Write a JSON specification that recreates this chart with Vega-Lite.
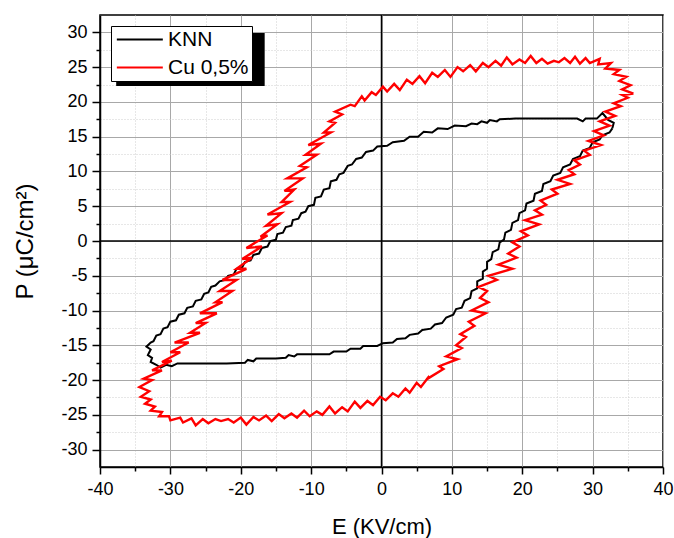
{
"$schema":"https://vega.github.io/schema/vega-lite/v6.json",
"width":563,"height":452,
"autosize":{"type":"none"},
"padding":{"left":100,"top":15,"right":11,"bottom":71},
"background":"white",
"config":{
 "font":"Liberation Sans",
 "view":{"stroke":"black","strokeWidth":1.5},
 "axis":{"labelFont":"Liberation Sans","titleFont":"Liberation Sans","labelColor":"black","titleColor":"black","titleFontWeight":"normal","labelFontSize":18,"titleFontSize":24}
},
"datasets":{
 "shadow":[{"x1":-37.7,"x2":-16.6,"y1":29.9,"y2":22.3}],
 "loops":[
{"s":"KNN","i":0,"E":32.8,"P":16.2},{"s":"KNN","i":1,"E":33.0,"P":17.0},{"s":"KNN","i":2,"E":32.2,"P":17.4},{"s":"KNN","i":3,"E":31.4,"P":18.4},{"s":"KNN","i":4,"E":30.6,"P":17.6},{"s":"KNN","i":5,"E":29.0,"P":17.6},{"s":"KNN","i":6,"E":28.6,"P":17.2},{"s":"KNN","i":7,"E":27.8,"P":17.6},{"s":"KNN","i":8,"E":25.0,"P":17.6},{"s":"KNN","i":9,"E":22.0,"P":17.6},
{"s":"KNN","i":10,"E":19.0,"P":17.6},{"s":"KNN","i":11,"E":16.8,"P":17.5},{"s":"KNN","i":12,"E":16.4,"P":17.2},{"s":"KNN","i":13,"E":15.4,"P":17.4},{"s":"KNN","i":14,"E":15.0,"P":17.0},{"s":"KNN","i":15,"E":14.2,"P":17.2},{"s":"KNN","i":16,"E":13.6,"P":16.8},{"s":"KNN","i":17,"E":12.8,"P":16.9},{"s":"KNN","i":18,"E":12.0,"P":16.5},{"s":"KNN","i":19,"E":10.4,"P":16.6},
{"s":"KNN","i":20,"E":9.4,"P":16.1},{"s":"KNN","i":21,"E":8.0,"P":16.2},{"s":"KNN","i":22,"E":7.2,"P":15.6},{"s":"KNN","i":23,"E":6.0,"P":15.7},{"s":"KNN","i":24,"E":5.2,"P":15.0},{"s":"KNN","i":25,"E":4.0,"P":15.0},{"s":"KNN","i":26,"E":3.2,"P":14.4},{"s":"KNN","i":27,"E":1.6,"P":14.2},{"s":"KNN","i":28,"E":0.8,"P":13.7},{"s":"KNN","i":29,"E":-0.6,"P":13.6},
{"s":"KNN","i":30,"E":-1.2,"P":13.0},{"s":"KNN","i":31,"E":-2.2,"P":12.8},{"s":"KNN","i":32,"E":-2.8,"P":12.0},{"s":"KNN","i":33,"E":-3.6,"P":11.8},{"s":"KNN","i":34,"E":-4.2,"P":11.0},{"s":"KNN","i":35,"E":-4.8,"P":10.8},{"s":"KNN","i":36,"E":-5.4,"P":9.8},{"s":"KNN","i":37,"E":-6.0,"P":9.6},{"s":"KNN","i":38,"E":-6.4,"P":8.8},{"s":"KNN","i":39,"E":-7.2,"P":8.6},
{"s":"KNN","i":40,"E":-7.4,"P":7.6},{"s":"KNN","i":41,"E":-8.2,"P":7.4},{"s":"KNN","i":42,"E":-8.6,"P":6.4},{"s":"KNN","i":43,"E":-9.4,"P":6.2},{"s":"KNN","i":44,"E":-9.6,"P":5.2},{"s":"KNN","i":45,"E":-10.4,"P":5.0},{"s":"KNN","i":46,"E":-10.8,"P":4.2},{"s":"KNN","i":47,"E":-11.4,"P":4.0},{"s":"KNN","i":48,"E":-11.8,"P":3.2},{"s":"KNN","i":49,"E":-12.6,"P":3.0},
{"s":"KNN","i":50,"E":-12.8,"P":2.2},{"s":"KNN","i":51,"E":-13.6,"P":2.0},{"s":"KNN","i":52,"E":-14.0,"P":1.2},{"s":"KNN","i":53,"E":-14.8,"P":1.0},{"s":"KNN","i":54,"E":-15.0,"P":0.2},{"s":"KNN","i":55,"E":-15.8,"P":0.0},{"s":"KNN","i":56,"E":-16.2,"P":-0.8},{"s":"KNN","i":57,"E":-17.0,"P":-1.0},{"s":"KNN","i":58,"E":-17.4,"P":-1.8},{"s":"KNN","i":59,"E":-18.2,"P":-2.0},
{"s":"KNN","i":60,"E":-18.6,"P":-2.8},{"s":"KNN","i":61,"E":-19.4,"P":-3.0},{"s":"KNN","i":62,"E":-19.8,"P":-3.8},{"s":"KNN","i":63,"E":-20.6,"P":-4.0},{"s":"KNN","i":64,"E":-21.0,"P":-4.8},{"s":"KNN","i":65,"E":-21.8,"P":-5.0},{"s":"KNN","i":66,"E":-22.2,"P":-5.6},{"s":"KNN","i":67,"E":-23.0,"P":-5.8},{"s":"KNN","i":68,"E":-23.6,"P":-6.4},{"s":"KNN","i":69,"E":-24.2,"P":-6.6},
{"s":"KNN","i":70,"E":-24.6,"P":-7.4},{"s":"KNN","i":71,"E":-25.2,"P":-7.6},{"s":"KNN","i":72,"E":-25.6,"P":-8.4},{"s":"KNN","i":73,"E":-26.4,"P":-8.6},{"s":"KNN","i":74,"E":-26.8,"P":-9.4},{"s":"KNN","i":75,"E":-27.6,"P":-9.6},{"s":"KNN","i":76,"E":-28.0,"P":-10.4},{"s":"KNN","i":77,"E":-28.8,"P":-10.6},{"s":"KNN","i":78,"E":-29.2,"P":-11.4},{"s":"KNN","i":79,"E":-30.0,"P":-11.6},
{"s":"KNN","i":80,"E":-30.4,"P":-12.4},{"s":"KNN","i":81,"E":-31.0,"P":-12.6},{"s":"KNN","i":82,"E":-31.4,"P":-13.4},{"s":"KNN","i":83,"E":-32.0,"P":-13.6},{"s":"KNN","i":84,"E":-32.4,"P":-14.4},{"s":"KNN","i":85,"E":-32.8,"P":-14.6},{"s":"KNN","i":86,"E":-33.4,"P":-15.2},{"s":"KNN","i":87,"E":-32.8,"P":-15.6},{"s":"KNN","i":88,"E":-33.2,"P":-16.4},{"s":"KNN","i":89,"E":-32.6,"P":-16.8},
{"s":"KNN","i":90,"E":-32.8,"P":-17.4},{"s":"KNN","i":91,"E":-32.0,"P":-17.8},{"s":"KNN","i":92,"E":-31.4,"P":-18.2},{"s":"KNN","i":93,"E":-30.6,"P":-17.8},{"s":"KNN","i":94,"E":-29.8,"P":-18.0},{"s":"KNN","i":95,"E":-29.0,"P":-17.6},{"s":"KNN","i":96,"E":-27.0,"P":-17.6},{"s":"KNN","i":97,"E":-25.0,"P":-17.6},{"s":"KNN","i":98,"E":-22.0,"P":-17.6},{"s":"KNN","i":99,"E":-19.4,"P":-17.5},
{"s":"KNN","i":100,"E":-19.0,"P":-17.1},{"s":"KNN","i":101,"E":-18.2,"P":-17.3},{"s":"KNN","i":102,"E":-17.8,"P":-16.9},{"s":"KNN","i":103,"E":-15.0,"P":-16.9},{"s":"KNN","i":104,"E":-13.6,"P":-16.8},{"s":"KNN","i":105,"E":-13.2,"P":-16.4},{"s":"KNN","i":106,"E":-12.4,"P":-16.6},{"s":"KNN","i":107,"E":-12.0,"P":-16.3},{"s":"KNN","i":108,"E":-7.4,"P":-16.3},{"s":"KNN","i":109,"E":-6.8,"P":-15.9},
{"s":"KNN","i":110,"E":-5.0,"P":-15.9},{"s":"KNN","i":111,"E":-4.4,"P":-15.5},{"s":"KNN","i":112,"E":-3.0,"P":-15.5},{"s":"KNN","i":113,"E":-2.6,"P":-15.1},{"s":"KNN","i":114,"E":-0.6,"P":-15.1},{"s":"KNN","i":115,"E":0.2,"P":-14.7},{"s":"KNN","i":116,"E":1.6,"P":-14.6},{"s":"KNN","i":117,"E":2.2,"P":-14.1},{"s":"KNN","i":118,"E":3.4,"P":-14.0},{"s":"KNN","i":119,"E":4.0,"P":-13.5},
{"s":"KNN","i":120,"E":5.2,"P":-13.3},{"s":"KNN","i":121,"E":5.8,"P":-12.8},{"s":"KNN","i":122,"E":7.0,"P":-12.6},{"s":"KNN","i":123,"E":7.6,"P":-12.0},{"s":"KNN","i":124,"E":8.6,"P":-11.8},{"s":"KNN","i":125,"E":9.2,"P":-11.0},{"s":"KNN","i":126,"E":10.2,"P":-10.6},{"s":"KNN","i":127,"E":10.6,"P":-9.8},{"s":"KNN","i":128,"E":11.4,"P":-9.6},{"s":"KNN","i":129,"E":11.8,"P":-8.6},
{"s":"KNN","i":130,"E":12.6,"P":-8.2},{"s":"KNN","i":131,"E":12.8,"P":-7.2},{"s":"KNN","i":132,"E":13.6,"P":-6.8},{"s":"KNN","i":133,"E":13.6,"P":-5.8},{"s":"KNN","i":134,"E":14.4,"P":-5.4},{"s":"KNN","i":135,"E":14.4,"P":-4.4},{"s":"KNN","i":136,"E":15.0,"P":-4.0},{"s":"KNN","i":137,"E":15.0,"P":-3.0},{"s":"KNN","i":138,"E":15.6,"P":-2.6},{"s":"KNN","i":139,"E":15.8,"P":-1.6},
{"s":"KNN","i":140,"E":16.6,"P":-1.2},{"s":"KNN","i":141,"E":16.8,"P":-0.2},{"s":"KNN","i":142,"E":17.4,"P":0.2},{"s":"KNN","i":143,"E":17.6,"P":1.2},{"s":"KNN","i":144,"E":18.4,"P":1.6},{"s":"KNN","i":145,"E":18.6,"P":2.6},{"s":"KNN","i":146,"E":19.4,"P":3.0},{"s":"KNN","i":147,"E":19.6,"P":4.0},{"s":"KNN","i":148,"E":20.4,"P":4.4},{"s":"KNN","i":149,"E":20.6,"P":5.4},
{"s":"KNN","i":150,"E":21.6,"P":5.8},{"s":"KNN","i":151,"E":21.8,"P":6.8},{"s":"KNN","i":152,"E":22.8,"P":7.2},{"s":"KNN","i":153,"E":23.0,"P":8.2},{"s":"KNN","i":154,"E":24.0,"P":8.6},{"s":"KNN","i":155,"E":24.4,"P":9.4},{"s":"KNN","i":156,"E":25.4,"P":9.8},{"s":"KNN","i":157,"E":25.8,"P":10.6},{"s":"KNN","i":158,"E":26.8,"P":11.0},{"s":"KNN","i":159,"E":27.2,"P":11.8},
{"s":"KNN","i":160,"E":28.2,"P":12.2},{"s":"KNN","i":161,"E":28.6,"P":13.0},{"s":"KNN","i":162,"E":29.6,"P":13.4},{"s":"KNN","i":163,"E":30.0,"P":14.2},{"s":"KNN","i":164,"E":31.0,"P":14.6},{"s":"KNN","i":165,"E":31.4,"P":15.2},{"s":"KNN","i":166,"E":32.4,"P":15.6},{"s":"KNN","i":167,"E":32.8,"P":16.2},
{"s":"Cu 0,5%","i":0,"E":35.8,"P":21.2},{"s":"Cu 0,5%","i":1,"E":34.2,"P":21.8},{"s":"Cu 0,5%","i":2,"E":35.4,"P":22.4},{"s":"Cu 0,5%","i":3,"E":33.8,"P":23.0},{"s":"Cu 0,5%","i":4,"E":34.8,"P":23.6},{"s":"Cu 0,5%","i":5,"E":33.0,"P":24.0},{"s":"Cu 0,5%","i":6,"E":33.8,"P":24.6},{"s":"Cu 0,5%","i":7,"E":31.8,"P":24.8},{"s":"Cu 0,5%","i":8,"E":32.6,"P":25.6},{"s":"Cu 0,5%","i":9,"E":30.8,"P":25.4},
{"s":"Cu 0,5%","i":10,"E":31.0,"P":26.2},{"s":"Cu 0,5%","i":11,"E":29.6,"P":25.6},{"s":"Cu 0,5%","i":12,"E":29.0,"P":26.3},{"s":"Cu 0,5%","i":13,"E":28.2,"P":25.5},{"s":"Cu 0,5%","i":14,"E":27.5,"P":26.5},{"s":"Cu 0,5%","i":15,"E":26.8,"P":25.6},{"s":"Cu 0,5%","i":16,"E":26.0,"P":26.3},{"s":"Cu 0,5%","i":17,"E":25.2,"P":25.7},{"s":"Cu 0,5%","i":18,"E":24.5,"P":25.9},{"s":"Cu 0,5%","i":19,"E":23.6,"P":25.5},
{"s":"Cu 0,5%","i":20,"E":22.8,"P":26.2},{"s":"Cu 0,5%","i":21,"E":22.0,"P":25.6},{"s":"Cu 0,5%","i":22,"E":21.2,"P":26.6},{"s":"Cu 0,5%","i":23,"E":20.4,"P":25.6},{"s":"Cu 0,5%","i":24,"E":19.6,"P":26.1},{"s":"Cu 0,5%","i":25,"E":18.6,"P":25.4},{"s":"Cu 0,5%","i":26,"E":17.8,"P":26.4},{"s":"Cu 0,5%","i":27,"E":17.0,"P":25.2},{"s":"Cu 0,5%","i":28,"E":16.2,"P":25.9},{"s":"Cu 0,5%","i":29,"E":15.2,"P":25.0},
{"s":"Cu 0,5%","i":30,"E":14.4,"P":25.6},{"s":"Cu 0,5%","i":31,"E":13.4,"P":24.4},{"s":"Cu 0,5%","i":32,"E":12.6,"P":25.3},{"s":"Cu 0,5%","i":33,"E":11.6,"P":24.4},{"s":"Cu 0,5%","i":34,"E":10.8,"P":25.0},{"s":"Cu 0,5%","i":35,"E":9.8,"P":23.6},{"s":"Cu 0,5%","i":36,"E":9.0,"P":24.6},{"s":"Cu 0,5%","i":37,"E":8.0,"P":23.6},{"s":"Cu 0,5%","i":38,"E":7.2,"P":24.2},{"s":"Cu 0,5%","i":39,"E":6.2,"P":22.7},
{"s":"Cu 0,5%","i":40,"E":5.4,"P":23.7},{"s":"Cu 0,5%","i":41,"E":4.4,"P":22.6},{"s":"Cu 0,5%","i":42,"E":3.6,"P":23.2},{"s":"Cu 0,5%","i":43,"E":2.6,"P":21.7},{"s":"Cu 0,5%","i":44,"E":1.8,"P":22.6},{"s":"Cu 0,5%","i":45,"E":0.8,"P":21.5},{"s":"Cu 0,5%","i":46,"E":0.2,"P":22.2},{"s":"Cu 0,5%","i":47,"E":-0.8,"P":21.0},{"s":"Cu 0,5%","i":48,"E":-1.4,"P":21.4},{"s":"Cu 0,5%","i":49,"E":-2.4,"P":20.2},
{"s":"Cu 0,5%","i":50,"E":-2.8,"P":20.8},{"s":"Cu 0,5%","i":51,"E":-3.8,"P":19.4},{"s":"Cu 0,5%","i":52,"E":-4.4,"P":19.6},{"s":"Cu 0,5%","i":53,"E":-6.6,"P":18.6},{"s":"Cu 0,5%","i":54,"E":-5.6,"P":18.2},{"s":"Cu 0,5%","i":55,"E":-7.4,"P":17.2},{"s":"Cu 0,5%","i":56,"E":-6.6,"P":17.0},{"s":"Cu 0,5%","i":57,"E":-8.2,"P":15.6},{"s":"Cu 0,5%","i":58,"E":-7.2,"P":15.6},{"s":"Cu 0,5%","i":59,"E":-10.4,"P":13.8},
{"s":"Cu 0,5%","i":60,"E":-8.6,"P":14.0},{"s":"Cu 0,5%","i":61,"E":-10.8,"P":12.4},{"s":"Cu 0,5%","i":62,"E":-9.2,"P":12.4},{"s":"Cu 0,5%","i":63,"E":-11.6,"P":10.8},{"s":"Cu 0,5%","i":64,"E":-10.6,"P":10.6},{"s":"Cu 0,5%","i":65,"E":-13.4,"P":9.0},{"s":"Cu 0,5%","i":66,"E":-11.2,"P":9.0},{"s":"Cu 0,5%","i":67,"E":-13.8,"P":7.2},{"s":"Cu 0,5%","i":68,"E":-12.4,"P":7.4},{"s":"Cu 0,5%","i":69,"E":-14.2,"P":5.6},
{"s":"Cu 0,5%","i":70,"E":-13.0,"P":5.6},{"s":"Cu 0,5%","i":71,"E":-16.2,"P":3.8},{"s":"Cu 0,5%","i":72,"E":-14.2,"P":4.0},{"s":"Cu 0,5%","i":73,"E":-16.4,"P":2.2},{"s":"Cu 0,5%","i":74,"E":-14.8,"P":2.4},{"s":"Cu 0,5%","i":75,"E":-17.2,"P":0.6},{"s":"Cu 0,5%","i":76,"E":-16.2,"P":0.8},{"s":"Cu 0,5%","i":77,"E":-19.2,"P":-1.0},{"s":"Cu 0,5%","i":78,"E":-17.0,"P":-0.8},{"s":"Cu 0,5%","i":79,"E":-19.8,"P":-2.6},
{"s":"Cu 0,5%","i":80,"E":-18.4,"P":-2.4},{"s":"Cu 0,5%","i":81,"E":-20.6,"P":-4.0},{"s":"Cu 0,5%","i":82,"E":-19.2,"P":-4.0},{"s":"Cu 0,5%","i":83,"E":-22.6,"P":-5.6},{"s":"Cu 0,5%","i":84,"E":-20.6,"P":-5.6},{"s":"Cu 0,5%","i":85,"E":-23.0,"P":-7.2},{"s":"Cu 0,5%","i":86,"E":-21.2,"P":-7.2},{"s":"Cu 0,5%","i":87,"E":-23.6,"P":-8.8},{"s":"Cu 0,5%","i":88,"E":-22.6,"P":-8.8},{"s":"Cu 0,5%","i":89,"E":-25.8,"P":-10.4},
{"s":"Cu 0,5%","i":90,"E":-23.4,"P":-10.4},{"s":"Cu 0,5%","i":91,"E":-26.4,"P":-11.8},{"s":"Cu 0,5%","i":92,"E":-25.0,"P":-11.8},{"s":"Cu 0,5%","i":93,"E":-27.2,"P":-13.2},{"s":"Cu 0,5%","i":94,"E":-25.8,"P":-13.2},{"s":"Cu 0,5%","i":95,"E":-29.4,"P":-14.6},{"s":"Cu 0,5%","i":96,"E":-27.4,"P":-14.6},{"s":"Cu 0,5%","i":97,"E":-30.0,"P":-16.0},{"s":"Cu 0,5%","i":98,"E":-28.6,"P":-16.0},{"s":"Cu 0,5%","i":99,"E":-31.2,"P":-17.4},
{"s":"Cu 0,5%","i":100,"E":-29.8,"P":-17.2},{"s":"Cu 0,5%","i":101,"E":-32.6,"P":-18.6},{"s":"Cu 0,5%","i":102,"E":-31.2,"P":-18.6},{"s":"Cu 0,5%","i":103,"E":-33.8,"P":-19.8},{"s":"Cu 0,5%","i":104,"E":-32.6,"P":-20.0},{"s":"Cu 0,5%","i":105,"E":-34.4,"P":-21.0},{"s":"Cu 0,5%","i":106,"E":-33.0,"P":-21.6},{"s":"Cu 0,5%","i":107,"E":-34.2,"P":-22.4},{"s":"Cu 0,5%","i":108,"E":-32.8,"P":-22.8},{"s":"Cu 0,5%","i":109,"E":-33.6,"P":-23.4},
{"s":"Cu 0,5%","i":110,"E":-32.2,"P":-23.8},{"s":"Cu 0,5%","i":111,"E":-32.8,"P":-24.4},{"s":"Cu 0,5%","i":112,"E":-31.2,"P":-24.6},{"s":"Cu 0,5%","i":113,"E":-31.6,"P":-25.2},{"s":"Cu 0,5%","i":114,"E":-30.2,"P":-25.2},{"s":"Cu 0,5%","i":115,"E":-30.0,"P":-25.8},{"s":"Cu 0,5%","i":116,"E":-28.6,"P":-25.4},{"s":"Cu 0,5%","i":117,"E":-28.2,"P":-26.1},{"s":"Cu 0,5%","i":118,"E":-27.0,"P":-25.5},{"s":"Cu 0,5%","i":119,"E":-26.4,"P":-26.5},
{"s":"Cu 0,5%","i":120,"E":-25.4,"P":-25.6},{"s":"Cu 0,5%","i":121,"E":-24.6,"P":-26.2},{"s":"Cu 0,5%","i":122,"E":-23.6,"P":-25.6},{"s":"Cu 0,5%","i":123,"E":-22.8,"P":-25.9},{"s":"Cu 0,5%","i":124,"E":-21.8,"P":-25.6},{"s":"Cu 0,5%","i":125,"E":-21.0,"P":-26.1},{"s":"Cu 0,5%","i":126,"E":-20.0,"P":-25.4},{"s":"Cu 0,5%","i":127,"E":-19.2,"P":-26.4},{"s":"Cu 0,5%","i":128,"E":-18.2,"P":-25.3},{"s":"Cu 0,5%","i":129,"E":-17.4,"P":-25.8},
{"s":"Cu 0,5%","i":130,"E":-16.4,"P":-25.1},{"s":"Cu 0,5%","i":131,"E":-15.6,"P":-25.9},{"s":"Cu 0,5%","i":132,"E":-14.6,"P":-24.9},{"s":"Cu 0,5%","i":133,"E":-13.8,"P":-25.5},{"s":"Cu 0,5%","i":134,"E":-12.8,"P":-24.8},{"s":"Cu 0,5%","i":135,"E":-12.0,"P":-25.4},{"s":"Cu 0,5%","i":136,"E":-11.0,"P":-24.4},{"s":"Cu 0,5%","i":137,"E":-10.2,"P":-25.2},{"s":"Cu 0,5%","i":138,"E":-9.2,"P":-24.5},{"s":"Cu 0,5%","i":139,"E":-8.4,"P":-25.0},
{"s":"Cu 0,5%","i":140,"E":-7.4,"P":-23.8},{"s":"Cu 0,5%","i":141,"E":-6.6,"P":-24.8},{"s":"Cu 0,5%","i":142,"E":-5.6,"P":-23.9},{"s":"Cu 0,5%","i":143,"E":-4.8,"P":-24.5},{"s":"Cu 0,5%","i":144,"E":-3.8,"P":-23.1},{"s":"Cu 0,5%","i":145,"E":-3.0,"P":-24.0},{"s":"Cu 0,5%","i":146,"E":-2.0,"P":-23.0},{"s":"Cu 0,5%","i":147,"E":-1.2,"P":-23.6},{"s":"Cu 0,5%","i":148,"E":-0.2,"P":-22.4},{"s":"Cu 0,5%","i":149,"E":0.6,"P":-22.9},
{"s":"Cu 0,5%","i":150,"E":1.6,"P":-21.9},{"s":"Cu 0,5%","i":151,"E":2.4,"P":-22.4},{"s":"Cu 0,5%","i":152,"E":3.4,"P":-21.2},{"s":"Cu 0,5%","i":153,"E":4.0,"P":-21.8},{"s":"Cu 0,5%","i":154,"E":5.0,"P":-20.4},{"s":"Cu 0,5%","i":155,"E":5.6,"P":-21.0},{"s":"Cu 0,5%","i":156,"E":6.8,"P":-19.4},{"s":"Cu 0,5%","i":157,"E":6.4,"P":-19.9},{"s":"Cu 0,5%","i":158,"E":8.8,"P":-18.4},{"s":"Cu 0,5%","i":159,"E":8.2,"P":-18.0},
{"s":"Cu 0,5%","i":160,"E":10.8,"P":-17.0},{"s":"Cu 0,5%","i":161,"E":9.2,"P":-16.6},{"s":"Cu 0,5%","i":162,"E":11.4,"P":-15.4},{"s":"Cu 0,5%","i":163,"E":10.6,"P":-15.0},{"s":"Cu 0,5%","i":164,"E":12.0,"P":-13.8},{"s":"Cu 0,5%","i":165,"E":11.2,"P":-13.4},{"s":"Cu 0,5%","i":166,"E":13.2,"P":-12.2},{"s":"Cu 0,5%","i":167,"E":12.4,"P":-11.6},{"s":"Cu 0,5%","i":168,"E":14.8,"P":-10.4},{"s":"Cu 0,5%","i":169,"E":12.8,"P":-10.0},
{"s":"Cu 0,5%","i":170,"E":15.2,"P":-8.8},{"s":"Cu 0,5%","i":171,"E":14.0,"P":-8.2},{"s":"Cu 0,5%","i":172,"E":15.0,"P":-7.2},{"s":"Cu 0,5%","i":173,"E":13.8,"P":-6.6},{"s":"Cu 0,5%","i":174,"E":16.4,"P":-5.6},{"s":"Cu 0,5%","i":175,"E":15.2,"P":-5.0},{"s":"Cu 0,5%","i":176,"E":18.6,"P":-4.0},{"s":"Cu 0,5%","i":177,"E":16.6,"P":-3.4},{"s":"Cu 0,5%","i":178,"E":19.2,"P":-2.4},{"s":"Cu 0,5%","i":179,"E":18.0,"P":-1.8},
{"s":"Cu 0,5%","i":180,"E":19.6,"P":-0.8},{"s":"Cu 0,5%","i":181,"E":18.6,"P":-0.2},{"s":"Cu 0,5%","i":182,"E":20.8,"P":0.8},{"s":"Cu 0,5%","i":183,"E":19.8,"P":1.4},{"s":"Cu 0,5%","i":184,"E":22.4,"P":2.4},{"s":"Cu 0,5%","i":185,"E":20.4,"P":3.0},{"s":"Cu 0,5%","i":186,"E":22.8,"P":3.8},{"s":"Cu 0,5%","i":187,"E":21.8,"P":4.4},{"s":"Cu 0,5%","i":188,"E":23.4,"P":5.2},{"s":"Cu 0,5%","i":189,"E":22.6,"P":5.8},
{"s":"Cu 0,5%","i":190,"E":25.0,"P":6.8},{"s":"Cu 0,5%","i":191,"E":24.2,"P":7.4},{"s":"Cu 0,5%","i":192,"E":26.8,"P":8.2},{"s":"Cu 0,5%","i":193,"E":25.0,"P":8.8},{"s":"Cu 0,5%","i":194,"E":27.4,"P":9.6},{"s":"Cu 0,5%","i":195,"E":26.6,"P":10.2},{"s":"Cu 0,5%","i":196,"E":28.2,"P":11.0},{"s":"Cu 0,5%","i":197,"E":27.4,"P":11.6},{"s":"Cu 0,5%","i":198,"E":29.6,"P":12.4},{"s":"Cu 0,5%","i":199,"E":28.8,"P":13.0},
{"s":"Cu 0,5%","i":200,"E":31.2,"P":13.8},{"s":"Cu 0,5%","i":201,"E":29.4,"P":14.4},{"s":"Cu 0,5%","i":202,"E":31.6,"P":15.2},{"s":"Cu 0,5%","i":203,"E":30.2,"P":15.8},{"s":"Cu 0,5%","i":204,"E":32.4,"P":16.6},{"s":"Cu 0,5%","i":205,"E":31.0,"P":17.2},{"s":"Cu 0,5%","i":206,"E":33.2,"P":18.0},{"s":"Cu 0,5%","i":207,"E":31.8,"P":18.6},{"s":"Cu 0,5%","i":208,"E":34.0,"P":19.4},{"s":"Cu 0,5%","i":209,"E":33.0,"P":19.8},
{"s":"Cu 0,5%","i":210,"E":35.0,"P":20.6},{"s":"Cu 0,5%","i":211,"E":34.2,"P":21.0},{"s":"Cu 0,5%","i":212,"E":35.8,"P":21.2}
 ]
},
"layer":[
 {"data":{"name":"shadow"},"mark":{"type":"rect","color":"black"},
  "encoding":{
   "x":{"field":"x1","type":"quantitative","scale":{"domain":[-40,40],"nice":false,"zero":false},
        "axis":{"orient":"bottom","values":[-35,-25,-15,-5,5,15,25,35],"grid":true,"gridColor":"#cfcfcf","gridDash":[1,2],"gridWidth":1,"domain":false,"labels":false,"tickSize":4,"tickWidth":1.5,"tickColor":"black","title":null}},
   "x2":{"field":"x2"},
   "y":{"field":"y1","type":"quantitative","scale":{"domain":[-32.5,32.5],"nice":false,"zero":false},
        "axis":{"orient":"left","values":[-27.5,-22.5,-17.5,-12.5,-7.5,-2.5,2.5,7.5,12.5,17.5,22.5,27.5],"grid":true,"gridColor":"#cfcfcf","gridDash":[1,2],"gridWidth":1,"domain":false,"labels":false,"tickSize":4,"tickWidth":1.5,"tickColor":"black","title":null}},
   "y2":{"field":"y2"}}},
 {"data":{"values":[{}]},"mark":{"type":"rule","color":"black","strokeWidth":1.5},"encoding":{"x":{"datum":0,"type":"quantitative","axis":null}}},
 {"data":{"values":[{}]},"mark":{"type":"rule","color":"black","strokeWidth":1.5},"encoding":{"y":{"datum":0,"type":"quantitative","axis":null}}},
 {"data":{"name":"loops"},"transform":[{"filter":"datum.s === 'KNN'"}],
  "mark":{"type":"line","strokeWidth":2,"clip":true},
  "encoding":{
   "x":{"field":"E","type":"quantitative",
        "axis":{"orient":"bottom","values":[-40,-30,-20,-10,0,10,20,30,40],"grid":true,"gridColor":"#a8a8a8","gridWidth":1,"domainColor":"black","domainWidth":1.5,"tickColor":"black","tickWidth":1.5,"tickSize":7,"labelPadding":6,"labelFlush":false,"labelOverlap":false,"labelExpr":"replace(datum.label, '\u2212', '-')","title":"E (KV/cm)","titleFontSize":22,"titlePadding":18}},
   "y":{"field":"P","type":"quantitative",
        "axis":{"orient":"left","values":[-30,-25,-20,-15,-10,-5,0,5,10,15,20,25,30],"grid":true,"gridColor":"#a8a8a8","gridWidth":1,"domainColor":"black","domainWidth":1.5,"tickColor":"black","tickWidth":1.5,"tickSize":8,"labelPadding":5,"labelFlush":false,"labelOverlap":false,"labelExpr":"replace(datum.label, '\u2212', '-')","title":"P (μC/cm²)","titlePadding":23}},
   "color":{"field":"s","type":"nominal","scale":{"domain":["KNN","Cu 0,5%"],"range":["black","#ff0000"]},
        "legend":{"orient":"none","legendX":11,"legendY":11,"title":null,"fillColor":"white","strokeColor":"black","padding":3,"labelFontSize":21,"labelFont":"Liberation Sans","labelColor":"black","symbolType":"M-1,0H5","symbolSize":235,"symbolStrokeWidth":2,"labelOffset":33,"rowPadding":6,"zindex":1,"labelExpr":"datum.label + '  '"}},
   "order":{"field":"i","type":"quantitative"}}},
 {"data":{"name":"loops"},"transform":[{"filter":"datum.s === 'Cu 0,5%'"}],
  "mark":{"type":"line","strokeWidth":2.4,"clip":true},
  "encoding":{
   "x":{"field":"E","type":"quantitative","axis":null},
   "y":{"field":"P","type":"quantitative","axis":null},
   "color":{"field":"s","type":"nominal"},
   "order":{"field":"i","type":"quantitative"}}}
],
"resolve":{"axis":{"x":"independent","y":"independent"}}
}
